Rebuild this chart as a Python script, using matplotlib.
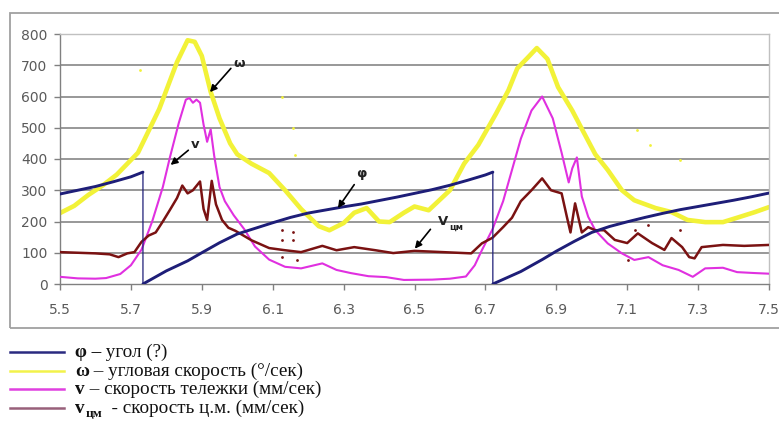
import numpy as np
import matplotlib
matplotlib.use("Agg")
import matplotlib.pyplot as plt
from matplotlib.patches import Rectangle

# ---------------- data ----------------
phi_t = [5.50, 5.55, 5.60, 5.65, 5.70, 5.734, 5.734, 5.80, 5.86, 5.90, 5.95, 6.00, 6.05, 6.10,
         6.15, 6.20, 6.25, 6.30, 6.35, 6.40, 6.45, 6.50, 6.55, 6.60, 6.65, 6.70, 6.721, 6.721,
         6.80, 6.86, 6.90, 6.95, 7.00, 7.05, 7.10, 7.15, 7.20, 7.25, 7.30, 7.35, 7.40, 7.45, 7.50]
phi_v = [288, 300, 312, 327, 343, 358, 0, 42, 74, 100, 132, 160, 178, 196,
         213, 227, 237, 247, 256, 267, 278, 290, 302, 316, 332, 349, 358, 0,
         40, 78, 105, 136, 165, 184, 199, 213, 226, 238, 248, 258, 268, 279, 291]

omega_t = [5.50, 5.54, 5.58, 5.62, 5.66, 5.69, 5.72, 5.75, 5.78, 5.80, 5.83, 5.86, 5.88,
           5.90, 5.925, 5.95, 5.98, 6.00, 6.04, 6.09, 6.135, 6.18, 6.23, 6.26, 6.30, 6.33,
           6.365, 6.40, 6.43, 6.47, 6.50, 6.54, 6.60, 6.64, 6.68, 6.73, 6.765, 6.79, 6.82,
           6.845, 6.875, 6.905, 6.945, 6.975, 7.01, 7.045, 7.085, 7.12, 7.18, 7.225, 7.27,
           7.32, 7.37, 7.41, 7.46, 7.50]
omega_v = [227, 250, 285, 315, 350, 385, 420, 490, 560, 620, 710, 780, 775,
           730, 615, 530, 450, 415, 385, 355, 300, 240, 185, 172, 195, 228,
           243, 200, 198, 228, 248, 236, 300, 385, 445, 545, 620, 690, 725,
           755, 720, 630, 555, 490, 415, 365, 300, 268, 243, 230, 205,
           198, 198, 212, 230, 246]
omega_out_t = [5.726, 6.126, 6.157, 6.163, 7.128, 7.164, 7.249]
omega_out_v = [685, 598, 499, 413, 493, 445, 397]

v_t = [5.50, 5.55, 5.60, 5.63, 5.67, 5.70, 5.73, 5.76, 5.79, 5.81, 5.835, 5.855, 5.865,
       5.875, 5.885, 5.895, 5.905, 5.915, 5.925, 5.935, 5.95, 5.965, 5.99, 6.02, 6.05,
       6.09, 6.135, 6.18, 6.24, 6.28, 6.32, 6.37, 6.42, 6.47, 6.55, 6.60, 6.645, 6.67,
       6.69, 6.72, 6.75, 6.775, 6.80, 6.83, 6.86, 6.89, 6.915, 6.935, 6.945, 6.958,
       6.972, 6.99, 7.01, 7.045, 7.085, 7.12, 7.16, 7.20, 7.245, 7.285, 7.32, 7.37,
       7.41, 7.46, 7.50]
v_v = [23, 18, 17, 19, 32, 60, 110, 200, 310, 405, 515, 590, 595,
       580, 590, 580, 510, 455, 495, 410, 310, 265, 220, 175, 120,
       78, 55, 50, 66, 45, 35, 25, 22, 13, 14, 17, 24, 60,
       108, 175, 265, 365, 465, 555, 600, 530, 420, 325, 370, 405,
       280, 215, 172, 130, 98, 77, 86, 60, 45, 23, 50, 52,
       38, 35, 33]

vcm_t = [5.50, 5.55, 5.60, 5.64, 5.665, 5.69, 5.71, 5.73, 5.75, 5.77, 5.79, 5.81, 5.83,
         5.845, 5.86, 5.875, 5.895, 5.905, 5.915, 5.928, 5.94, 5.957, 5.975, 5.995, 6.04,
         6.09, 6.135, 6.18, 6.24, 6.28, 6.33, 6.39, 6.44, 6.50, 6.58, 6.66, 6.69, 6.72,
         6.75, 6.775, 6.80, 6.83, 6.86, 6.885, 6.915, 6.93, 6.94, 6.953, 6.972, 6.99,
         7.01, 7.035, 7.065, 7.10, 7.13, 7.17, 7.205, 7.225, 7.255, 7.275, 7.29, 7.31,
         7.37, 7.43, 7.50]
vcm_v = [102, 100, 98, 95, 86, 98, 102, 135, 155, 165, 200, 237, 275,
         315, 290, 300, 328, 240, 205, 330, 255, 205, 180, 170, 140,
         115, 108, 102, 122, 108, 118, 108, 99, 106, 102, 98, 130, 148,
         182, 212, 265, 300, 338, 300, 290, 214, 165, 258, 165, 182,
         172, 172, 141, 131, 162, 131, 109, 147, 118, 86, 82, 118,
         125, 122, 125]
vcm_out_t = [6.126, 6.157, 6.126, 6.157, 6.168, 6.126, 7.122, 7.159, 7.249, 7.102]
vcm_out_v = [173, 166, 141, 141, 77, 86, 173, 189, 173, 77]

x_ticks = [5.5, 5.7, 5.9, 6.1, 6.3, 6.5, 6.7, 6.9, 7.1, 7.3, 7.5]
x_labels = ["5.5", "5.7", "5.9", "6.1", "6.3", "6.5", "6.7", "6.9", "7.1", "7.3", "7.5"]
y_ticks = [0, 100, 200, 300, 400, 500, 600, 700, 800]

legend_bold = ["φ –", "ω", "v", "v"]
legend_sub = ["", "", "", "цм"]
legend_rest = [" угол (?)", " – угловая скорость (°/сек)", " – скорость тележки (мм/сек)",
               "  - скорость ц.м. (мм/сек)"]

c_phi = "#1e1e78"
c_omega = "#f2f238"
c_v = "#e030e0"
c_vcm = "#7a1212"
legend_colors = ["#2a2a80", "#f2f24a", "#e040e0", "#98607a"]

# ---------------- figure ----------------
W, H = 779, 425
fig = plt.figure(figsize=(W / 100, H / 100), dpi=100)
fig.patch.set_facecolor("white")

# outer chart frame
fig.patches.append(Rectangle((10 / W, (H - 328) / H), 790 / W, 315 / H,
                             transform=fig.transFigure, fill=False,
                             edgecolor="#a0a0a0", lw=1.3))

ax = fig.add_axes([60 / W, (H - 284) / H, (769 - 60) / W, 250 / H])
ax.set_xlim(5.5, 7.5)
ax.set_ylim(0, 800)
ax.set_facecolor("white")

for s in ["left", "bottom"]:
    ax.spines[s].set_color("#808080")
    ax.spines[s].set_linewidth(1.0)
for s in ["top", "right"]:
    ax.spines[s].set_color("#c0c0c0")
    ax.spines[s].set_linewidth(1.0)

ax.set_xticks(x_ticks)
ax.set_xticklabels(x_labels)
ax.set_yticks(y_ticks)
ax.tick_params(axis="both", direction="out", length=4, width=1, color="#808080",
               labelcolor="#5a5a5a", labelsize=10)
ax.tick_params(axis="x", pad=10)
ax.tick_params(axis="y", pad=5)
for lab in ax.get_xticklabels() + ax.get_yticklabels():
    lab.set_family("DejaVu Sans")

for yv in y_ticks[1:-1]:
    ax.axhline(yv, color="#7c7c7c", lw=1.1, zorder=1)

# series
ax.plot(omega_t, omega_v, color=c_omega, lw=3.3, zorder=2, solid_capstyle="round")
ax.scatter(omega_out_t, omega_out_v, s=4, color=c_omega, zorder=2, linewidths=0)
ax.plot(v_t, v_v, color=c_v, lw=1.5, zorder=3)
ax.plot(vcm_t, vcm_v, color=c_vcm, lw=1.8, zorder=4)
ax.scatter(vcm_out_t, vcm_out_v, s=4, color=c_vcm, zorder=4, linewidths=0)

pt = np.array(phi_t, dtype=float)
pv = np.array(phi_v, dtype=float)
ax.plot(pt, pv, color=c_phi, lw=0.9, zorder=5)
breaks = np.where(np.diff(pt) == 0)[0] + 1
for seg_t, seg_v in zip(np.split(pt, breaks), np.split(pv, breaks)):
    ax.plot(seg_t, seg_v, color=c_phi, lw=2.1, zorder=5, solid_capstyle="round")

# annotations
arrow = dict(arrowstyle="-|>", color="black", lw=1.2, mutation_scale=10, shrinkA=0, shrinkB=0)
ann_font = dict(fontsize=9.5, fontweight="bold", family="DejaVu Sans", color="#222222")
ax.annotate("", xy=(5.923, 614), xytext=(5.982, 690), arrowprops=arrow, zorder=6)
ax.text(6.006, 707, "ω", ha="center", va="center", **ann_font)
ax.annotate("", xy=(5.812, 381), xytext=(5.862, 428), arrowprops=arrow, zorder=6)
ax.text(5.882, 447, "v", ha="center", va="center", **ann_font)
ax.annotate("", xy=(6.284, 243), xytext=(6.330, 318), arrowprops=arrow, zorder=6)
ax.text(6.351, 352, "φ", ha="center", va="center", **ann_font)
ax.annotate("", xy=(6.501, 113), xytext=(6.545, 175), arrowprops=arrow, zorder=6)
ax.text(6.566, 200, "V", ha="left", va="center", **ann_font)
ax.annotate("цм", xy=(6.566, 200), xytext=(8, -4), textcoords="offset points",
            ha="left", va="center", fontsize=6.5, fontweight="bold",
            family="DejaVu Sans", color="#222222")

# legend (below the chart frame)
renderer = fig.canvas.get_renderer()
row_y = [352, 371, 389, 408]
for i in range(4):
    yy = (H - row_y[i]) / H
    fig.add_artist(plt.Line2D([10 / W, 64 / W], [yy, yy], transform=fig.transFigure,
                              color=legend_colors[i], lw=1.8))
    yb = (H - row_y[i] - 5) / H
    t1 = fig.text(75 / W, yb, legend_bold[i], fontsize=13.8, fontweight="bold",
                  family="Liberation Serif", va="baseline", ha="left", color="#111111")
    x_next = t1.get_window_extent(renderer=renderer).x1 / W
    if legend_sub[i]:
        t2 = fig.text(x_next + 1 / W, yb - 4 / H, legend_sub[i], fontsize=9.5,
                      fontweight="bold", family="Liberation Serif", va="baseline",
                      ha="left", color="#111111")
        x_next = t2.get_window_extent(renderer=renderer).x1 / W
    fig.text(x_next, yb, legend_rest[i], fontsize=13.8, family="Liberation Serif",
             va="baseline", ha="left", color="#111111")

fig.savefig("out.png", dpi=100, facecolor="white")
